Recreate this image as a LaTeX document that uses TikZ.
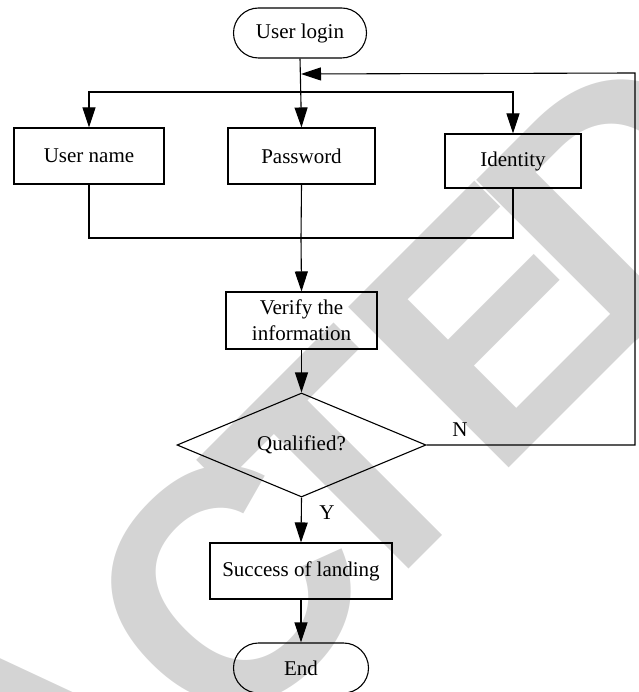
\documentclass[tikz,border=0pt]{standalone}
\usepackage{fontspec}
\setmainfont{Liberation Serif}
\newfontfamily\wmfont{Liberation Sans Bold}
\usetikzlibrary{shapes.geometric,shapes.misc,arrows.meta}
\definecolor{wmgray}{RGB}{212,212,212}
\begin{document}
\begin{tikzpicture}[x=1pt,y=-1pt,
  every node/.style={font=\fontsize{21}{26}\selectfont},
  line/.style={line width=1.1pt},
  arr/.style={line width=1.1pt,-{Triangle[length=20pt,width=13pt]}},
  box/.style={draw,line width=1.1pt,rectangle,minimum width=#1,inner sep=0pt,align=center},
  term/.style={draw,line width=1.1pt,rounded rectangle,minimum width=#1,inner sep=0pt},
  dec/.style={draw,line width=1.1pt,diamond,aspect=2.39,inner sep=0pt,minimum width=249pt,minimum height=104pt},
  wm/.style={rotate=45,anchor=base west,inner sep=0pt,outer sep=0pt,text=wmgray,font=\wmfont\fontsize{330}{330}\selectfont}
]
\useasboundingbox (0,0) rectangle (638,692);
% watermark
\begin{scope}
\clip (0,0) rectangle (638,692);
\node[wm] (wmA) at (55,922) {A};
\node[wm] (wmC) at (223.5,754) {C};
\node[wm] (wmT) at (354.3,623) {T};
\node[wm] (wmE) at (493.6,483.7) {E};
\node[wm] (wmD) at (621,356.4) {D};
\end{scope}
% diagram
\node[term=133pt,minimum height=50pt] (login) at (300,33) {User login};
\node[box=150pt,minimum height=56pt] (uname) at (89,156) {User name};
\node[box=147pt,minimum height=56pt] (pwd) at (301.5,156) {Password};
\node[box=136pt,minimum height=54pt] (ident) at (513,161) {Identity};
\node[box=151pt,minimum height=57pt] (verify) at (301.5,320.5) {Verify the\\information};
\node[dec] (qual) at (301.5,445) {Qualified?};
\node[box=182pt,minimum height=56pt] (succ) at (301,571) {Success of landing};
\node[term=135pt,minimum height=50pt] (end) at (301,668) {End};
\node (nlab) at (460,430) {N};
\node (ylab) at (327,513) {Y};
\coordinate (fb) at (301,74);
\coordinate (split) at (301,92);
\coordinate (join) at (301,238);
\coordinate (rtop) at (635,73);
\coordinate (rbot) at (635,445);
\draw[arr] (login.south) -- (pwd.north);
\draw[arr] (split) -| (uname.north);
\draw[arr] (split) -| (ident.north);
\draw[line] (uname.south) |- (join) -| (ident.south);
\draw[line] (pwd.south) -- (join);
\draw[arr] (join) -- (verify.north);
\draw[arr] (verify.south) -- (qual.north);
\draw[arr] (qual.south) -- (succ.north);
\draw[arr] (succ.south) -- (end.north);
\draw[arr] (qual.east) -- (rbot) -- (rtop) -- (fb);
\end{tikzpicture}
\end{document}
